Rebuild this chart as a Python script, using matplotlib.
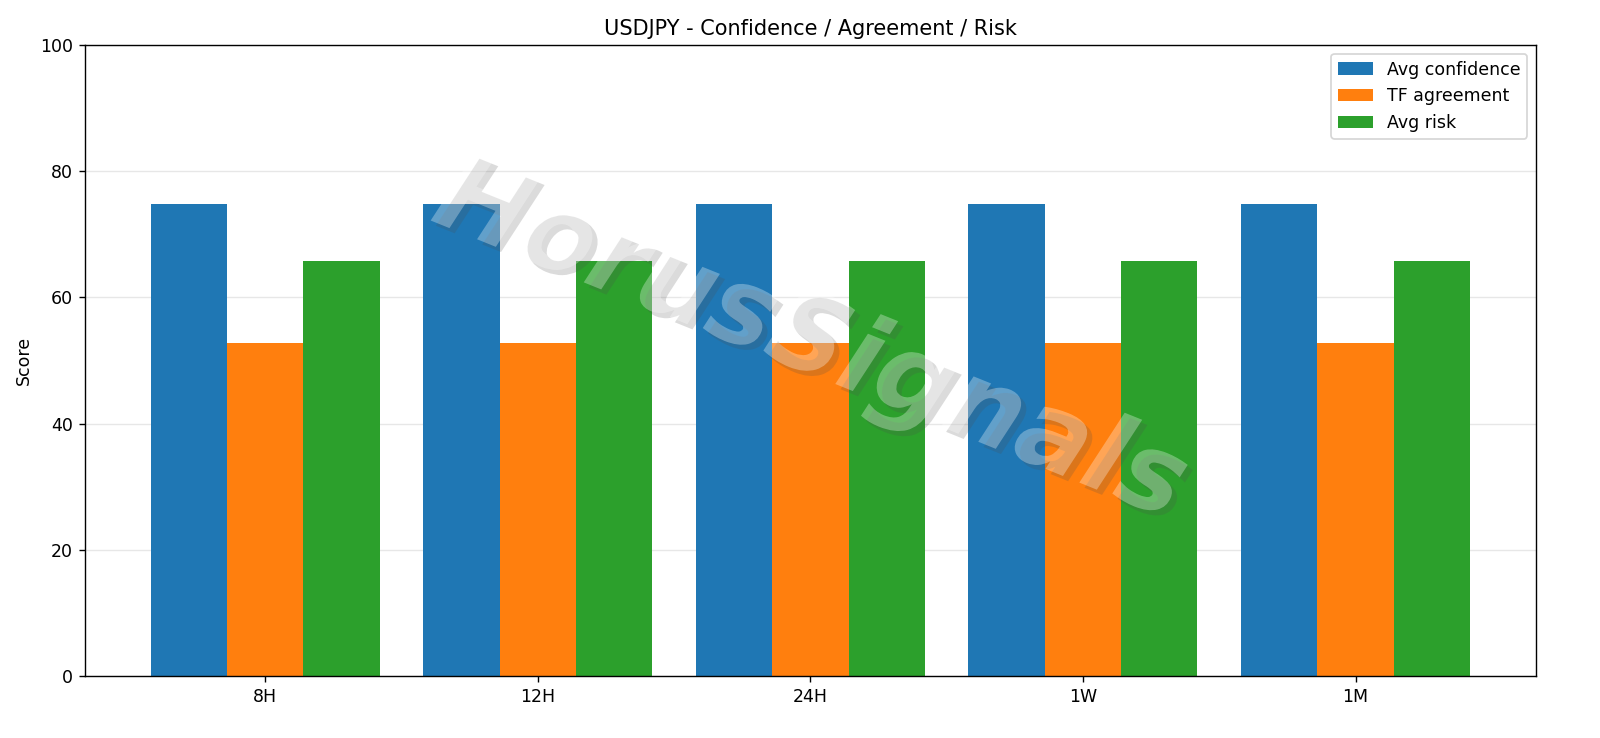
import numpy as np
import matplotlib
matplotlib.use("Agg")
import matplotlib.pyplot as plt
import matplotlib.patheffects as pe

categories = ["8H", "12H", "24H", "1W", "1M"]
avg_confidence = [74.8, 74.8, 74.8, 74.8, 74.8]
tf_agreement = [52.7, 52.7, 52.7, 52.7, 52.7]
avg_risk = [65.8, 65.8, 65.8, 65.8, 65.8]

fig, ax = plt.subplots(figsize=(12.8, 5.904), dpi=125)
x = np.arange(len(categories))
w = 0.28
ax.bar(x - w, avg_confidence, w, label="Avg confidence", color="#1f77b4")
ax.bar(x, tf_agreement, w, label="TF agreement", color="#ff7f0e")
ax.bar(x + w, avg_risk, w, label="Avg risk", color="#2ca02c")

ax.set_ylim(0, 100)
ax.set_xticks(x)
ax.set_xticklabels(categories)
ax.set_ylabel("Score")
ax.set_title("USDJPY - Confidence / Agreement / Risk")
ax.grid(axis="y", alpha=0.3)
ax.set_axisbelow(True)
ax.legend(loc="upper right")

# watermark
ax.text(0.5, 0.53, "HorusSignals", transform=ax.transAxes, fontsize=62,
        style="italic", weight="bold", color="white", alpha=0.3, rotation=-22,
        ha="center", va="center",
        path_effects=[pe.withSimplePatchShadow(offset=(3, -3), alpha=0.2)])

fig.subplots_adjust(left=0.053, right=0.96, top=0.939, bottom=0.084)
fig.savefig("out.png", dpi=125)
